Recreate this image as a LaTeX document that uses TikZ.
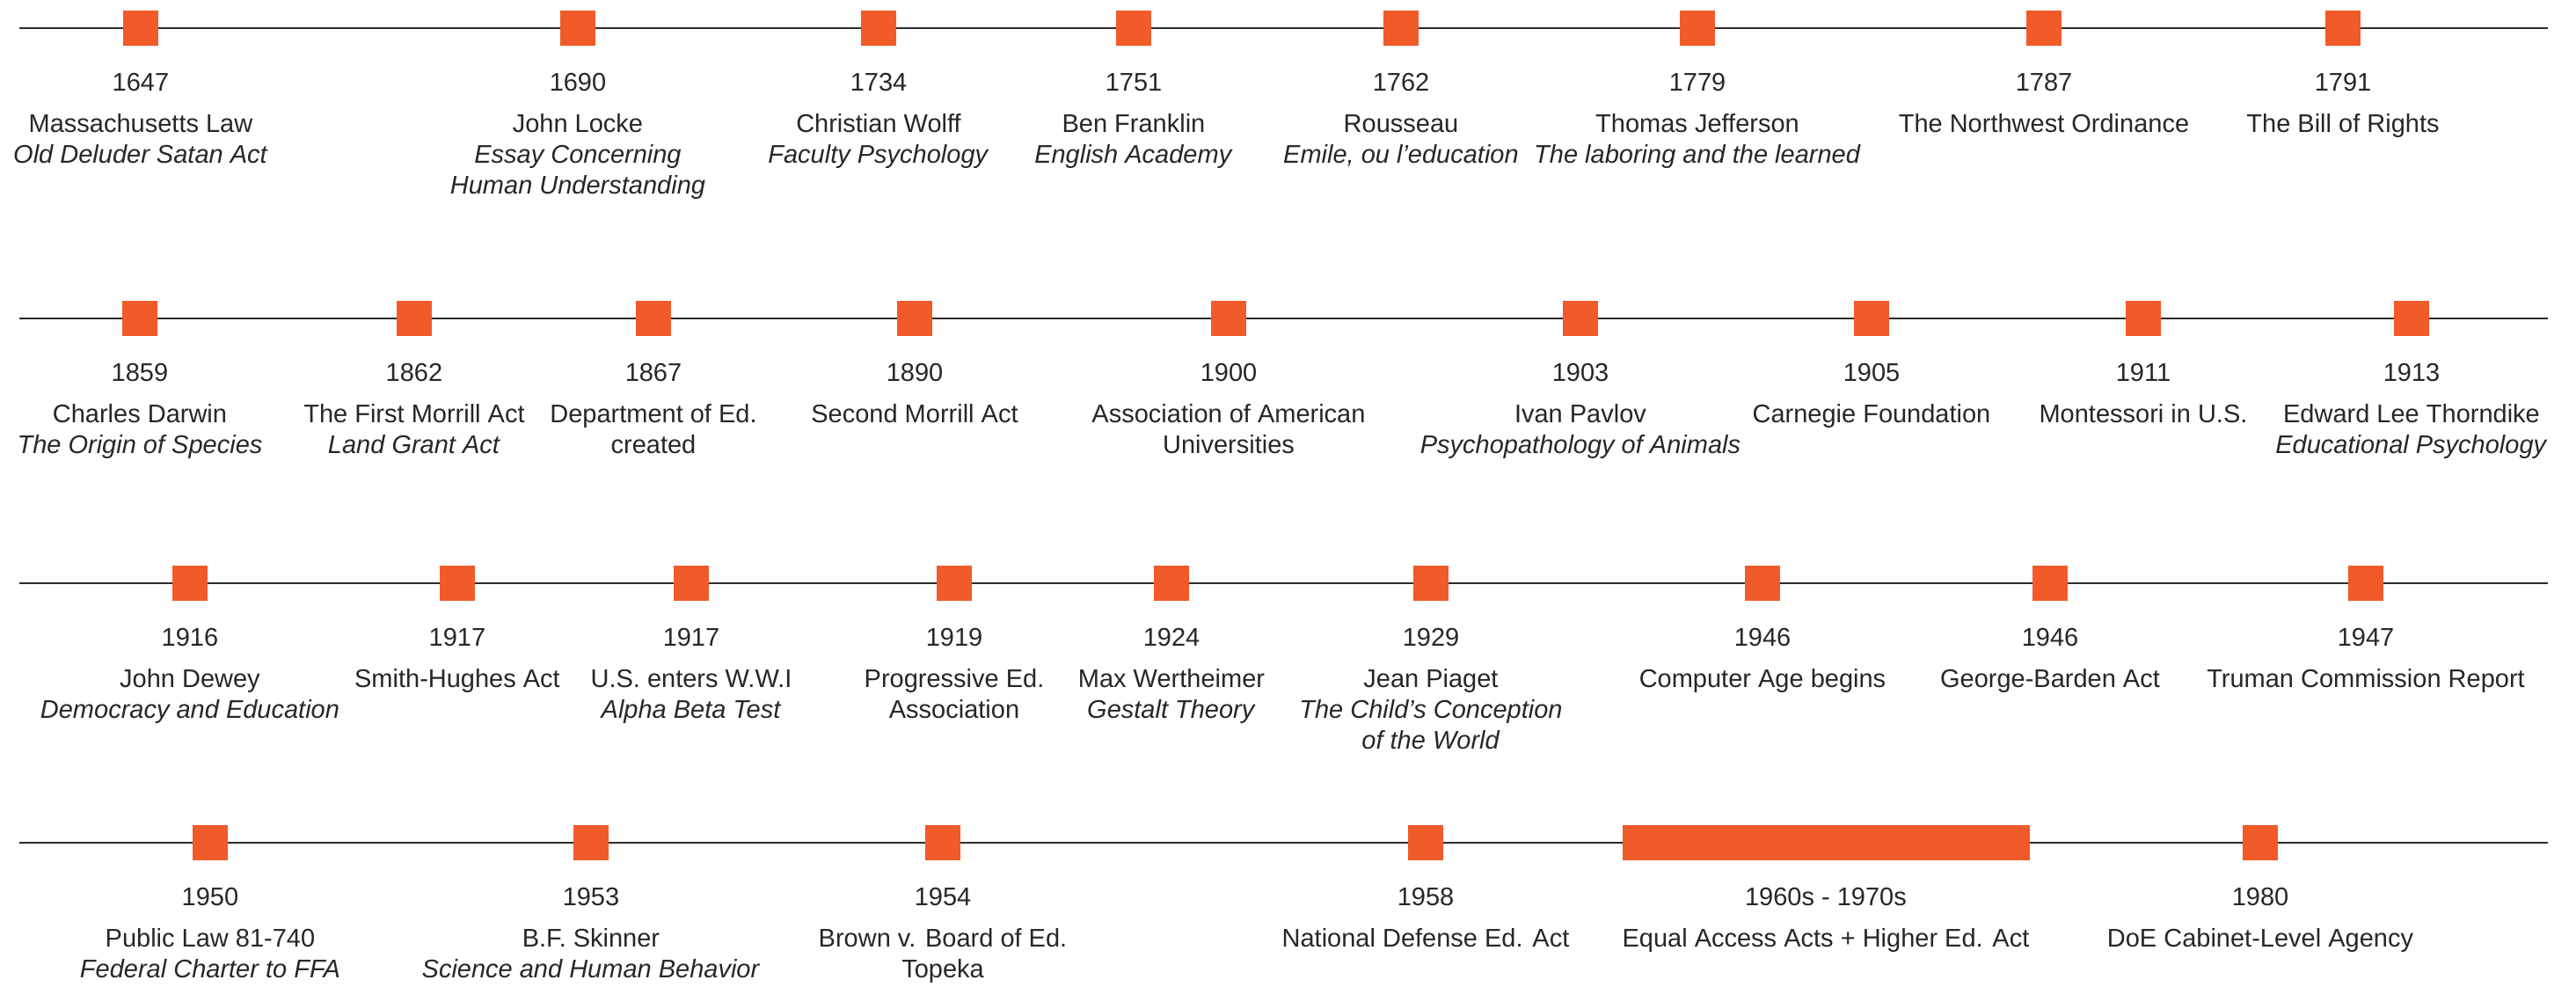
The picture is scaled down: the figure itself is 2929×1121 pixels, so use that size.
\documentclass[tikz,border=0pt]{standalone}
\usepackage{fontspec}
\setmainfont{Liberation Sans}
\definecolor{accent}{RGB}{241,90,41}
\definecolor{linegray}{RGB}{45,42,43}
\definecolor{txt}{RGB}{40,38,39}
\tikzset{
  tl/.style={line width=1.3pt, draw=linegray},
  evsq/.style={rectangle, fill=accent, draw=none, minimum size=20pt, inner sep=0pt},
  evbar/.style={rectangle, fill=accent, draw=none, minimum width=231.5pt, minimum height=20pt, inner sep=0pt},
  yr/.style={anchor=base, inner sep=0pt, text=txt, font=\fontsize{14.5}{17.5}\selectfont},
  desc/.style={anchor=north, align=center, inner sep=0pt, text=txt,
    font=\fontsize{14.5}{17.5}\selectfont},
}
% first line baseline of a description at y+118 px; strut height 12.25pt = 24.5px
\newcommand\tlevent[5]{%
  \node[evsq] (#1) at (#2,#3) {};
  \node[yr] (#1y) at (#2,#3+71) {#4};
  \node[desc] (#1d) at (#2,#3+93.5) {\strut #5};
}
\begin{document}
\begin{tikzpicture}[x=0.5pt,y=-0.5pt]
\fill[white] (0,0) rectangle (2929,1121);
\useasboundingbox (0,0) rectangle (2929,1121);
% timelines
\coordinate (r1a) at (22,32);  \coordinate (r1b) at (2897,32);
\coordinate (r2a) at (22,362); \coordinate (r2b) at (2897,362);
\coordinate (r3a) at (22,663); \coordinate (r3b) at (2897,663);
\coordinate (r4a) at (22,958); \coordinate (r4b) at (2897,958);
\draw[tl] (r1a) -- (r1b);
\draw[tl] (r2a) -- (r2b);
\draw[tl] (r3a) -- (r3b);
\draw[tl] (r4a) -- (r4b);
% row 1
\tlevent{e1647}{160}{32}{1647}{Massachusetts Law\\\textit{Old Deluder Satan Act}}
\tlevent{e1690}{657}{32}{1690}{John Locke\\\textit{Essay Concerning}\\\textit{Human Understanding}}
\tlevent{e1734}{999}{32}{1734}{Christian Wolff\\\textit{Faculty Psychology}}
\tlevent{e1751}{1289}{32}{1751}{Ben Franklin\\\textit{English Academy}}
\tlevent{e1762}{1593}{32}{1762}{Rousseau\\\textit{Emile, ou l'education}}
\tlevent{e1779}{1930}{32}{1779}{Thomas Jefferson\\\textit{The laboring and the learned}}
\tlevent{e1787}{2324}{32}{1787}{The Northwest Ordinance}
\tlevent{e1791}{2664}{32}{1791}{The Bill of Rights}
% row 2
\tlevent{e1859}{159}{362}{1859}{Charles Darwin\\\textit{The Origin of Species}}
\tlevent{e1862}{471}{362}{1862}{The First Morrill Act\\\textit{Land Grant Act}}
\tlevent{e1867}{743}{362}{1867}{Department of Ed.\\created}
\tlevent{e1890}{1040}{362}{1890}{Second Morrill Act}
\tlevent{e1900}{1397}{362}{1900}{Association of American\\Universities}
\tlevent{e1903}{1797}{362}{1903}{Ivan Pavlov\\\textit{Psychopathology of Animals}}
\tlevent{e1905}{2128}{362}{1905}{Carnegie Foundation}
\tlevent{e1911}{2437}{362}{1911}{Montessori in U.S.}
\tlevent{e1913}{2742}{362}{1913}{Edward Lee Thorndike\\\textit{Educational Psychology}}
% row 3
\tlevent{e1916}{216}{663}{1916}{John Dewey\\\textit{Democracy and Education}}
\tlevent{e1917a}{520}{663}{1917}{Smith-Hughes Act}
\tlevent{e1917b}{786}{663}{1917}{U.S. enters W.W.I\\\textit{Alpha Beta Test}}
\tlevent{e1919}{1085}{663}{1919}{Progressive Ed.\\Association}
\tlevent{e1924}{1332}{663}{1924}{Max Wertheimer\\\textit{Gestalt Theory}}
\tlevent{e1929}{1627}{663}{1929}{Jean Piaget\\\textit{The Child's Conception}\\\textit{of the World}}
\tlevent{e1946a}{2004}{663}{1946}{Computer Age begins}
\tlevent{e1946b}{2331}{663}{1946}{George-Barden Act}
\tlevent{e1947}{2690}{663}{1947}{Truman Commission Report}
% row 4
\tlevent{e1950}{239}{958}{1950}{Public Law 81-740\\\textit{Federal Charter to FFA}}
\tlevent{e1953}{672}{958}{1953}{B.F. Skinner\\\textit{Science and Human Behavior}}
\tlevent{e1954}{1072}{958}{1954}{Brown v. Board of Ed.\\Topeka}
\tlevent{e1958}{1621}{958}{1958}{National Defense Ed. Act}
\node[evbar] (e1960) at (2076,958) {};
\node[yr] (e1960y) at (2076,958+71) {1960s - 1970s};
\node[desc] (e1960d) at (2076,958+93.5) {\strut Equal Access Acts + Higher Ed. Act};
\tlevent{e1980}{2570}{958}{1980}{DoE Cabinet-Level Agency}
\end{tikzpicture}
\end{document}
